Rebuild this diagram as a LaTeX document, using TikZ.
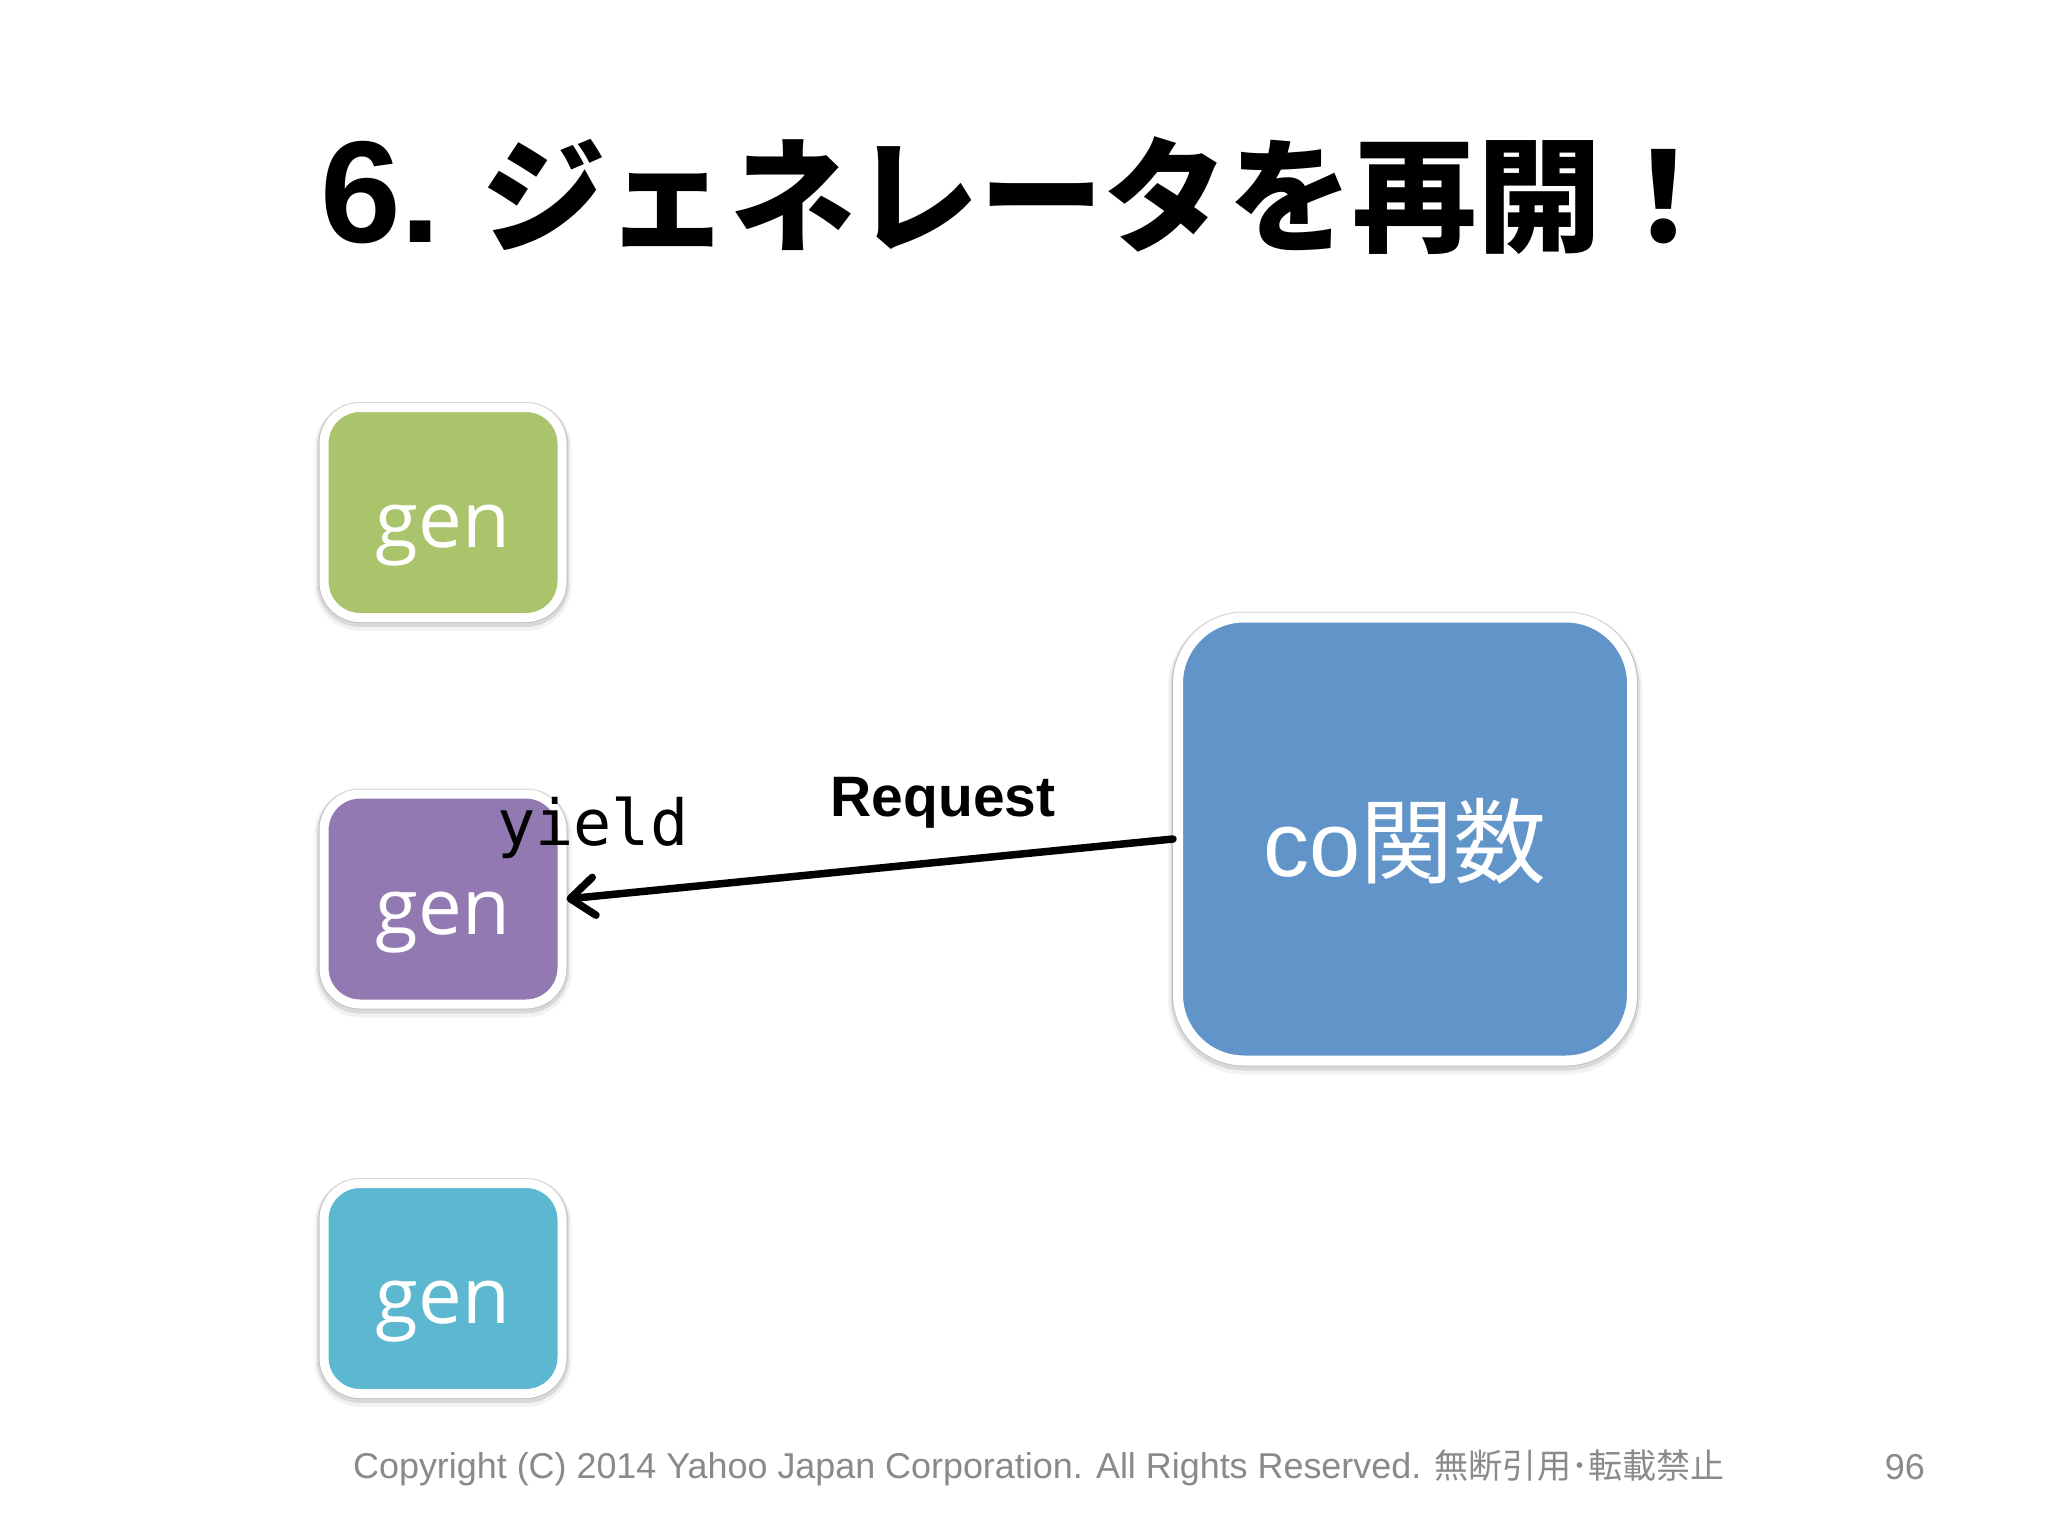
\documentclass[tikz,border=0pt]{standalone}
\usepackage{fontspec}
\usetikzlibrary{arrows.meta}
\newfontfamily\cjkfont{Noto Sans CJK JP}
\newfontfamily\helv{Liberation Sans}
\newfontfamily\genfont{Open Sans}
\newfontfamily\monofont{DejaVu Sans Mono}
\definecolor{gengreen}{HTML}{A9C46A}
\definecolor{genpurple}{HTML}{9279B2}
\definecolor{gencyan}{HTML}{5BB8D0}
\definecolor{coblue}{HTML}{6195C9}
\definecolor{footgray}{HTML}{8A8A8A}
\begin{document}
\begin{tikzpicture}[x=1pt,y=-1pt,
  box/.style={draw=white, line width=9pt, rounded corners=36pt, inner sep=0pt,
    minimum width=238pt, minimum height=210pt,
    preaction={draw=black, draw opacity=0.05, line width=19pt, transform canvas={yshift=-4pt}},
    preaction={draw=black, draw opacity=0.10, line width=14pt, transform canvas={yshift=-2.5pt}},
    preaction={draw=black, draw opacity=0.10, line width=11pt}},
  bigbox/.style={draw=white, line width=10pt, rounded corners=66pt, inner sep=0pt,
    minimum width=454pt, minimum height=443pt,
    preaction={draw=black, draw opacity=0.05, line width=20pt, transform canvas={yshift=-4pt}},
    preaction={draw=black, draw opacity=0.10, line width=15pt, transform canvas={yshift=-2.5pt}},
    preaction={draw=black, draw opacity=0.10, line width=12pt}},
  gentext/.style={text=white, font=\genfont\fontsize{78}{78}\selectfont, anchor=base, inner sep=0pt},
  lbl/.style={inner sep=0pt, text=black},
  conn/.style={line width=7.5pt, line cap=round, line join=round,
    -{Straight Barb[length=24pt,width=38pt,round]}},
  foot/.style={inner sep=0pt, text=footgray}]
\useasboundingbox (0,0) rectangle (2048,1536);
\fill[white] (0,0) rectangle (2048,1536);

% title
\node[lbl, anchor=base west] (title) at (320,242)
  {{\helv\bfseries\fontsize{145}{145}\selectfont 6.}\hspace{40pt}{\cjkfont\bfseries\fontsize{124.5}{124.5}\selectfont ジェネレータを再開！}};

% generator boxes
\node[box, fill=gengreen]  (g1) at (443,512.5) {};
\node[box, fill=genpurple] (g2) at (443,899) {};
\node[box, fill=gencyan]   (g3) at (443,1288.5) {};
\node[gentext] (t1) at ([yshift=-35pt]g1.center) {gen};
\node[gentext] (t2) at ([yshift=-35pt]g2.center) {gen};
\node[gentext] (t3) at ([yshift=-35pt]g3.center) {gen};

% co function box
\node[bigbox, fill=coblue] (co) at (1405,839) {};
\node[inner sep=0pt, text=white, anchor=base] (cot) at ([yshift=-37pt]co.center)
  {{\helv\fontsize{92}{92}\selectfont co}{\cjkfont\fontsize{93}{93}\selectfont 関数}};

% connector
\draw[conn] (co.west) -- (g2.east);

% labels
\node[lbl, anchor=base] (req) at (943,816) {\helv\bfseries\fontsize{57}{57}\selectfont Request};
\node[lbl, anchor=base west] (yld) at (497,845) {\monofont\fontsize{63.5}{63.5}\selectfont yield};

% footer
\node[foot, anchor=base west] (copy) at (353,1478)
  {\helv\fontsize{35.9}{35.9}\selectfont Copyright (C) 2014 Yahoo Japan Corporation. All Rights Reserved. {\cjkfont\fontsize{34.1}{34.1}\selectfont 無断引用･転載禁止}};
\node[foot, anchor=base east] (page) at (1925,1479) {\helv\fontsize{36}{36}\selectfont 96};
\end{tikzpicture}
\end{document}
